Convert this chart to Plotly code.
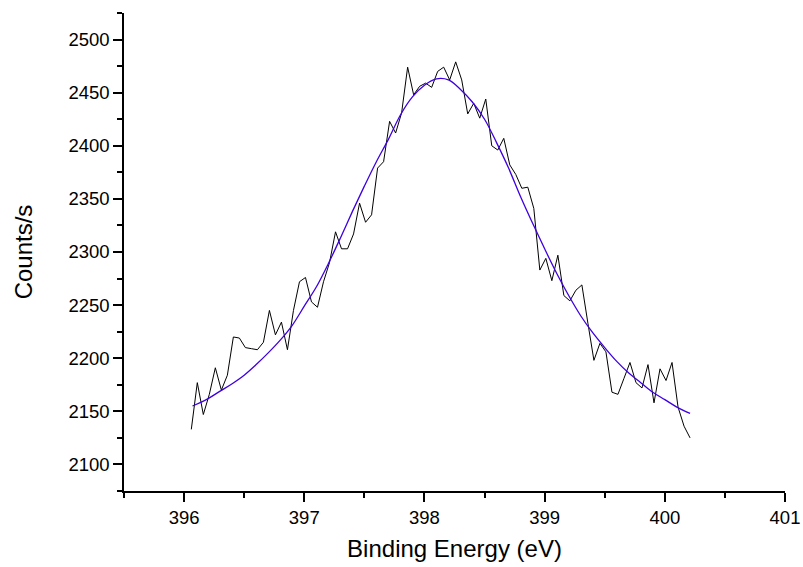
import plotly.graph_objects as go

# Measured spectrum (binding energy in eV, counts/s)
energy = [396.06, 396.11, 396.16, 396.21, 396.26, 396.31, 396.36, 396.41, 396.46, 396.51,
          396.56, 396.61, 396.66, 396.71, 396.76, 396.81, 396.86, 396.91, 396.96, 397.01,
          397.06, 397.11, 397.16, 397.21, 397.26, 397.31, 397.36, 397.41, 397.46, 397.51,
          397.56, 397.61, 397.66, 397.71, 397.76, 397.81, 397.86, 397.91, 397.96, 398.01,
          398.06, 398.11, 398.16, 398.21, 398.26, 398.31, 398.36, 398.41, 398.46, 398.51,
          398.56, 398.61, 398.66, 398.71, 398.76, 398.81, 398.86, 398.91, 398.96, 399.01,
          399.06, 399.11, 399.16, 399.21, 399.26, 399.31, 399.36, 399.41, 399.46, 399.51,
          399.56, 399.61, 399.66, 399.71, 399.76, 399.81, 399.86, 399.91, 399.96, 400.01,
          400.06, 400.11, 400.16, 400.21]
counts = [2133, 2177, 2147, 2166, 2191, 2170, 2184, 2220, 2219, 2210,
          2209, 2208, 2215, 2245, 2222, 2234, 2208, 2245, 2272, 2276,
          2253, 2248, 2272, 2290, 2319, 2303, 2303, 2317, 2346, 2328,
          2335, 2379, 2385, 2423, 2412, 2431, 2474, 2448, 2456, 2459,
          2455, 2470, 2474, 2462, 2479, 2462, 2430, 2440, 2426, 2444,
          2400, 2396, 2407, 2382, 2373, 2360, 2361, 2341, 2283, 2294,
          2273, 2297, 2259, 2254, 2264, 2269, 2233, 2198, 2214, 2206,
          2168, 2166, 2181, 2196, 2177, 2172, 2194, 2158, 2190, 2179,
          2196, 2154, 2136, 2125]

# Fitted peak curve
fit_energy = [396.07, 396.2, 396.3, 396.4, 396.5, 396.6, 396.7, 396.8, 396.9, 397.0,
              397.1, 397.2, 397.3, 397.4, 397.5, 397.6, 397.7, 397.8, 397.9, 398.0,
              398.1, 398.2, 398.3, 398.4, 398.5, 398.6, 398.7, 398.8, 398.9, 399.0,
              399.1, 399.2, 399.3, 399.4, 399.5, 399.6, 399.7, 399.8, 399.9, 400.0,
              400.1, 400.21]
fit_counts = [2155, 2162, 2169, 2176, 2184, 2194, 2205, 2217, 2231, 2249,
              2267, 2289, 2313, 2338, 2362, 2385, 2406, 2429, 2446, 2457,
              2463, 2462, 2453, 2441, 2425, 2403, 2379, 2352, 2327, 2303,
              2280, 2259, 2240, 2224, 2210, 2197, 2186, 2177, 2168, 2161,
              2154, 2148]

x_ticks = [396, 397, 398, 399, 400, 401]
y_ticks = [2100, 2150, 2200, 2250, 2300, 2350, 2400, 2450, 2500]

FONT = "Liberation Sans, Arial, sans-serif"

fig = go.Figure()
fig.add_trace(go.Scatter(x=energy, y=counts, mode="lines",
                         line=dict(color="#000000", width=1), showlegend=False))
fig.add_trace(go.Scatter(x=fit_energy, y=fit_counts, mode="lines",
                         line=dict(color="#3d00e0", width=1.3, shape="spline"),
                         showlegend=False))

axis_common = dict(showgrid=False, zeroline=False, showline=True, linecolor="black",
                   linewidth=1.5, ticks="outside", ticklen=9, tickwidth=1.5,
                   tickcolor="black", automargin=False,
                   tickfont=dict(family=FONT, size=18.5, color="black"))

fig.update_layout(
    width=803, height=567,
    margin=dict(l=124, r=18, t=13, b=76),
    plot_bgcolor="white", paper_bgcolor="white",
    xaxis=dict(range=[395.5, 401], tickvals=x_ticks, ticktext=[str(v) for v in x_ticks],
               minor=dict(dtick=0.5, tick0=395.5, ticks="outside", ticklen=5,
                          tickwidth=1.5, tickcolor="black", showgrid=False),
               title=dict(text="Binding Energy (eV)", font=dict(family=FONT, size=24, color="black"),
                          standoff=13),
               **axis_common),
    yaxis=dict(range=[2075, 2525], tickvals=y_ticks, ticktext=[str(v) for v in y_ticks],
               minor=dict(dtick=25, tick0=2075, ticks="outside", ticklen=5,
                          tickwidth=1.5, tickcolor="black", showgrid=False),
               title=dict(text="Counts/s", font=dict(family=FONT, size=24, color="black"),
                          standoff=29),
               **axis_common),
)

fig.write_html("out.html")
